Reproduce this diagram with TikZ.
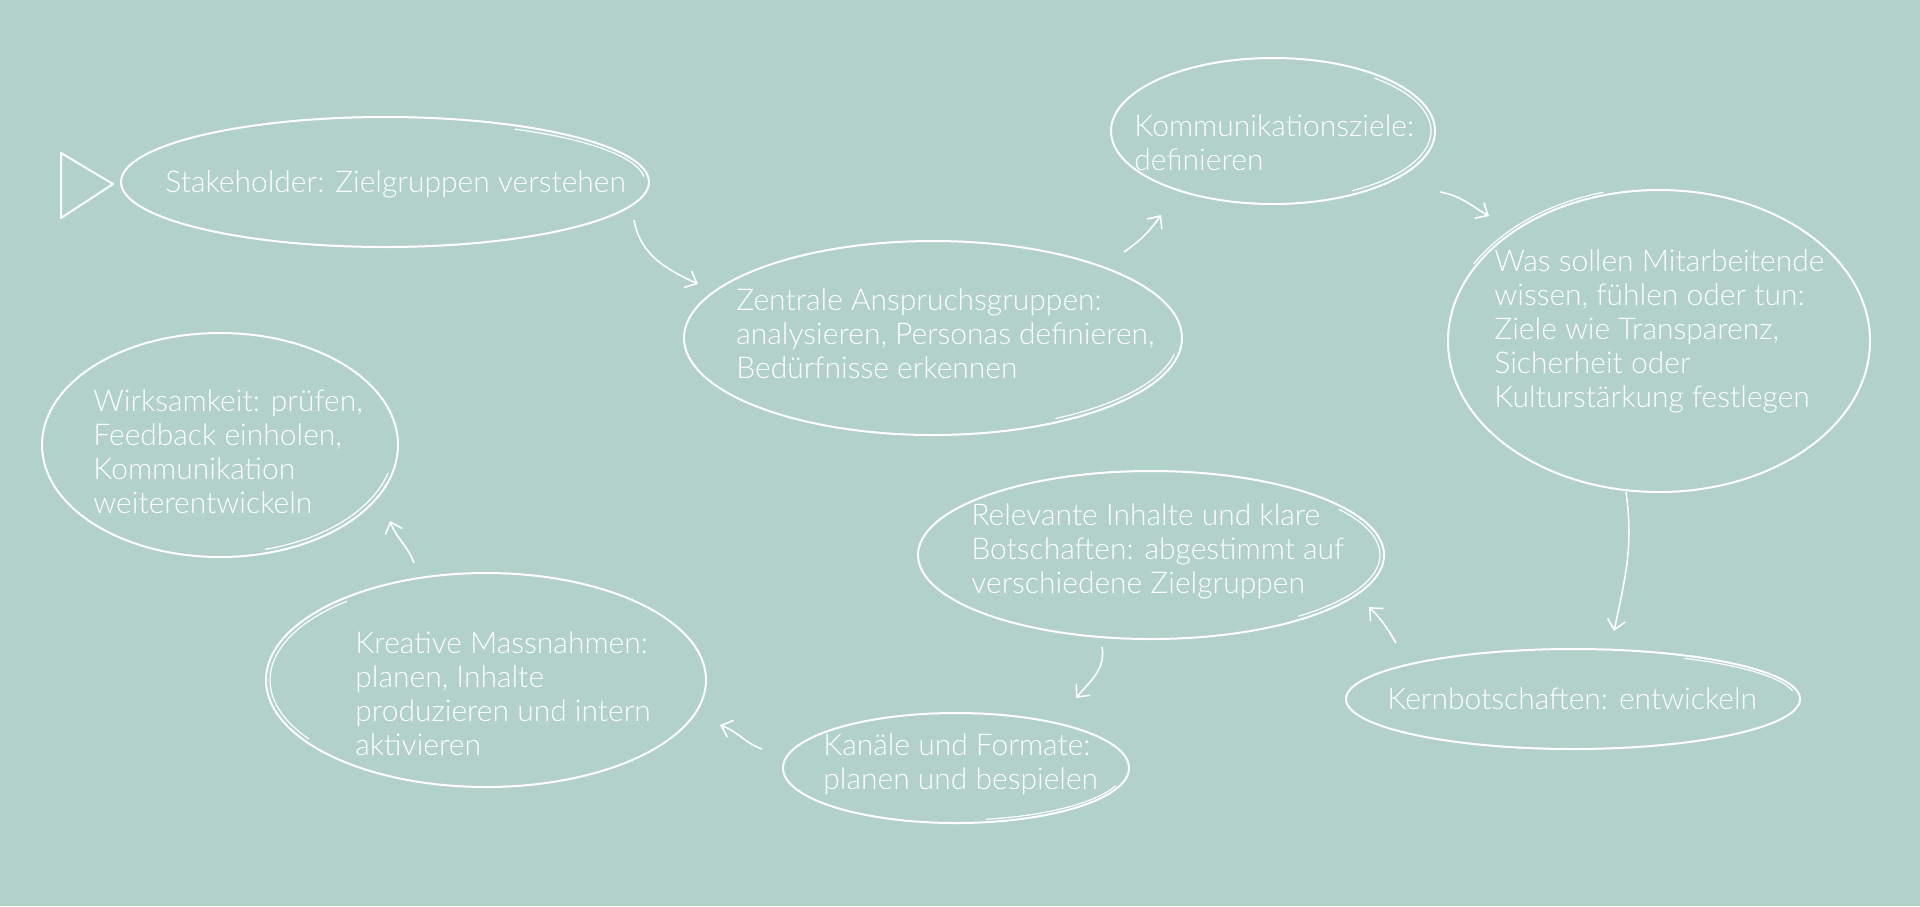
\documentclass[tikz,border=0pt]{standalone}
\usepackage{fontspec}
\IfFontExistsTF{Lato Light}{\setmainfont{Lato Light}}{\setmainfont{Lato}}
\usetikzlibrary{shapes.geometric,arrows.meta}
\definecolor{bgc}{RGB}{178,209,203}
\tikzset{
  bubble/.style={ellipse, draw=white, line width=1pt, inner sep=0pt},
  txt/.style={text=white, inner sep=0pt, anchor=west, align=left,
    font=\fontsize{15pt}{17pt}\selectfont},
  sketch/.style={draw=white, line width=0.6pt},
  arr/.style={draw=white, line width=0.8pt, -{Straight Barb[length=5pt,width=9pt]}},
}
\newcommand\skarc[5]{\draw[sketch] ([shift={(#2:#4pt and #5pt)}]#1.center) arc[start angle=#2, end angle=#3, x radius=#4pt, y radius=#5pt];}
\begin{document}
\begin{tikzpicture}[x=0.5pt,y=0.5pt]
\fill[bgc] (0,0) rectangle (1920,-906);
\useasboundingbox (0,0) rectangle (1920,-906);

% start marker
\draw[white, line width=1pt, line join=round] (61,-153) -- (113,-184) -- (61,-218) -- cycle;

% ellipses
\node[bubble, minimum width=264pt, minimum height=65pt] (s1) at (385,-182) {};
\node[bubble, minimum width=249pt, minimum height=97pt] (s2) at (933,-338) {};
\node[bubble, minimum width=162pt, minimum height=73pt] (s3) at (1273,-131) {};
\node[bubble, minimum width=211pt, minimum height=151pt] (s4) at (1659,-341) {};
\node[bubble, minimum width=227pt, minimum height=50pt] (s5) at (1573,-699) {};
\node[bubble, minimum width=233pt, minimum height=84pt] (s6) at (1151,-555) {};
\node[bubble, minimum width=173pt, minimum height=55pt] (s7) at (956,-768) {};
\node[bubble, minimum width=220pt, minimum height=107pt] (s8) at (486,-680) {};
\node[bubble, minimum width=178pt, minimum height=112pt] (s9) at (220,-445) {};

% sketchy double strokes
\skarc{s1}{60}{5}{130}{30.5}
\skarc{s2}{-10}{-60}{122.5}{46.5}
\skarc{s3}{50}{-60}{79}{34.5}
\skarc{s4}{105}{150}{107}{77}
\skarc{s5}{60}{10}{111.5}{23.5}
\skarc{s6}{35}{-50}{114.5}{40}
\skarc{s7}{-20}{-80}{85}{26}
\skarc{s8}{130}{215}{108}{51.5}
\skarc{s9}{-15}{-75}{87}{54}

% texts
\node[txt] (t1) at (165,-184) {Stakeholder: Zielgruppen verstehen};
\node[txt] (t2) at (736,-334) {Zentrale Anspruchsgruppen:\\analysieren, Personas definieren,\\Bedürfnisse erkennen};
\node[txt] (t3) at (1134,-143) {Kommunikationsziele:\\definieren};
\node[txt] (t4) at (1494,-331) {Was sollen Mitarbeitende\\wissen, fühlen oder tun:\\Ziele wie Transparenz,\\Sicherheit oder\\Kulturstärkung festlegen};
\node[txt] (t5) at (1387,-699) {Kernbotschaften: entwickeln};
\node[txt] (t6) at (971,-551) {Relevante Inhalte und klare\\Botschaften: abgestimmt auf\\verschiedene Zielgruppen};
\node[txt] (t7) at (823,-764) {Kanäle und Formate:\\planen und bespielen};
\node[txt] (t8) at (355,-694) {Kreative Massnahmen:\\planen, Inhalte\\produzieren und intern\\aktivieren};
\node[txt] (t9) at (93,-452) {Wirksamkeit: prüfen,\\Feedback einholen,\\Kommunikation\\weiterentwickeln};

% arrow end points
\coordinate (a1s) at (634,-220); \coordinate (a1e) at (698,-284);
\coordinate (a2s) at (1124,-252); \coordinate (a2e) at (1161,-215);
\coordinate (a3s) at (1440,-192); \coordinate (a3e) at (1489,-216);
\coordinate (a4s) at (1626,-492); \coordinate (a4e) at (1614,-631);
\coordinate (a5s) at (1396,-643); \coordinate (a5e) at (1369,-607);
\coordinate (a6s) at (1102,-647); \coordinate (a6e) at (1076,-698);
\coordinate (a7s) at (762,-749); \coordinate (a7e) at (720,-725);
\coordinate (a8s) at (414,-563); \coordinate (a8e) at (390,-521);

\draw[arr] (a1s) to[out=-80, in=155] (a1e);
\draw[arr] (a2s) to[out=35, in=235] (a2e);
\draw[arr] (a3s) to[out=-10, in=150] (a3e);
\draw[arr] (a4s) to[out=-82, in=78] (a4e);
\draw[arr] (a5s) to[out=120, in=-45] (a5e);
\draw[arr] (a6s) to[out=-80, in=50] (a6e);
\draw[arr] (a7s) to[out=160, in=-20] (a7e);
\draw[arr] (a8s) to[out=110, in=-70] (a8e);
\end{tikzpicture}
\end{document}
